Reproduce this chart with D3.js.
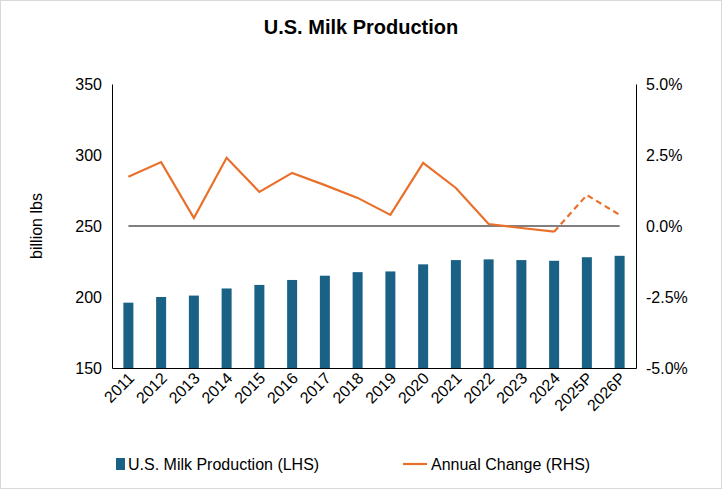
<!DOCTYPE html>
<html><head><meta charset="utf-8">
<script src="https://cdn.jsdelivr.net/npm/d3@7"></script>
<style>body{margin:0;background:#fff}svg{font-family:"Liberation Sans",Arial,sans-serif}</style>
</head><body>
<script>
const years = ["2011","2012","2013","2014","2015","2016","2017","2018","2019","2020","2021","2022","2023","2024","2025P","2026P"];
const production = [196,200,201,206,208.5,212,215,217.5,218,223,226,226.5,226,225.5,228,229];
const change = [1.73,2.25,0.28,2.4,1.2,1.87,1.44,0.99,0.39,2.22,1.34,0.07,-0.07,-0.2,1.09,0.39];
const leftTicks = [150,200,250,300,350];
const rightTicks = [-5,-2.5,0,2.5,5];

const W=722,H=489;
const svg=d3.select("body").append("svg").attr("width",W).attr("height",H);
svg.append("rect").attr("x",0.5).attr("y",0.5).attr("width",W-1).attr("height",H-1).attr("fill","#fff").attr("stroke","#d9d9d9");
const L=112,R=636,T=84,B=368;
const x=d3.scaleBand().domain(years).range([L,R]);
const yl=d3.scaleLinear().domain([150,350]).range([B,T]);
const yr=d3.scaleLinear().domain([-5,5]).range([B,T]);

svg.append("text").attr("x",W/2).attr("y",34).attr("text-anchor","middle").attr("font-size",20).attr("font-weight","bold").text("U.S. Milk Production");

svg.selectAll(".bar").data(years).join("rect")
  .attr("x",d=>x(d)+x.bandwidth()/2-5).attr("width",10)
  .attr("y",(d,i)=>yl(production[i])).attr("height",(d,i)=>B-yl(production[i]))
  .attr("fill","#1a6186");

const ga=svg.append("g").attr("transform",`translate(${L},0)`).call(d3.axisLeft(yl).tickValues(leftTicks).tickSize(0).tickPadding(10));
const gr=svg.append("g").attr("transform",`translate(${R},0)`).call(d3.axisRight(yr).tickValues(rightTicks).tickSize(0).tickPadding(10).tickFormat(d=>d.toFixed(1)+"%"));
const gx=svg.append("g").attr("transform",`translate(0,${B})`).call(d3.axisBottom(x).tickSize(0).tickPadding(8));
[ga,gr,gx].forEach(g=>{g.selectAll("text").attr("font-size",16).attr("fill","#000");g.select(".domain").attr("stroke","#000");});
gx.selectAll("text").attr("text-anchor","end").attr("dx","-0.2em").attr("dy","0.3em").attr("transform","rotate(-45)");

svg.append("line").attr("x1",x(years[0])+x.bandwidth()/2).attr("x2",x(years[15])+x.bandwidth()/2)
  .attr("y1",yr(0)).attr("y2",yr(0)).attr("stroke","#000").attr("stroke-width",1.2);

svg.append("text").attr("transform",`translate(42,${(T+B)/2}) rotate(-90)`).attr("text-anchor","middle").attr("font-size",16).text("billion lbs");

const line=d3.line().x(d=>x(d.y)+x.bandwidth()/2).y(d=>yr(d.v));
const pts=years.map((y,i)=>({y,v:change[i]}));
svg.append("path").datum(pts.slice(0,14)).attr("d",line).attr("fill","none").attr("stroke","#e8702a").attr("stroke-width",2.2);
svg.append("path").datum(pts.slice(13)).attr("d",line).attr("fill","none").attr("stroke","#e8702a").attr("stroke-width",2.2).attr("stroke-dasharray","6,4");

const lg=svg.append("g").attr("transform","translate(0,464)");
lg.append("rect").attr("x",116).attr("y",-6).attr("width",9).attr("height",12).attr("fill","#1a6186");
lg.append("text").attr("x",128).attr("y",6).attr("font-size",16).text("U.S. Milk Production (LHS)");
lg.append("line").attr("x1",403).attr("x2",427).attr("y1",0).attr("y2",0).attr("stroke","#e8702a").attr("stroke-width",2.2);
lg.append("text").attr("x",431).attr("y",6).attr("font-size",16).text("Annual Change (RHS)");
</script>
</body></html>
